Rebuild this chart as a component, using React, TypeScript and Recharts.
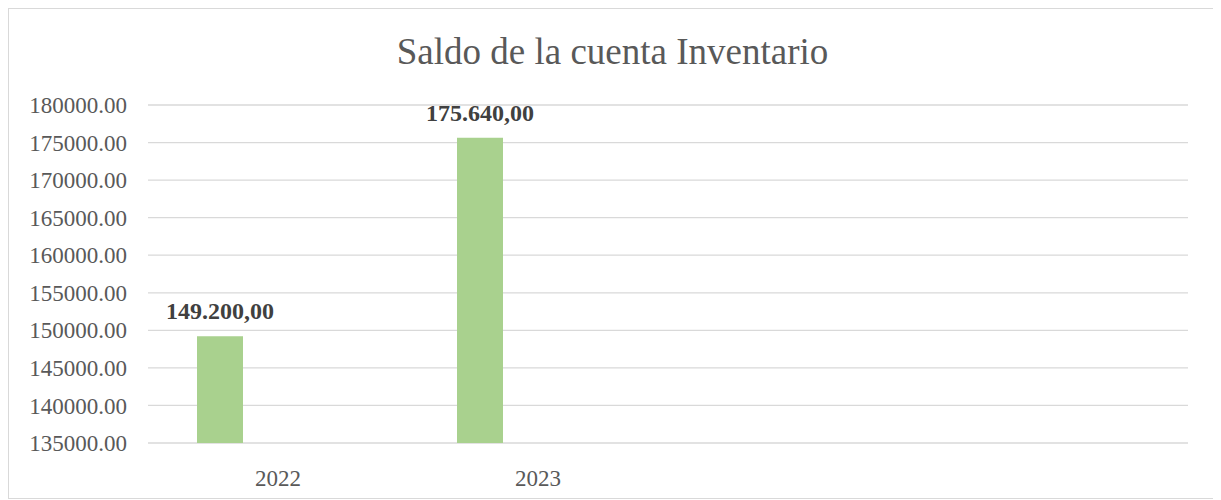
import React from "react";
import { BarChart, Bar, XAxis, YAxis, CartesianGrid, LabelList } from "recharts";

const categories = ["2022", "2023", "", ""];
const inventario = [149200, 175640, null, null];
const serieVacia = [null, null, null, null];
const yTicks = [135000, 140000, 145000, 150000, 155000, 160000, 165000, 170000, 175000, 180000];

const data = categories.map((c, i) => ({ cat: c, inventario: inventario[i], vacia: serieVacia[i] }));

const FONT = '"Liberation Serif", "Times New Roman", serif';

const fmtLabel = (v: any) => {
  if (v === null || v === undefined) return "";
  const [i, d] = Number(v).toFixed(2).split(".");
  return i.replace(/\B(?=(\d{3})+(?!\d))/g, ".") + "," + d;
};

export default function App() {
  return (
    <div
      style={{
        position: "relative",
        width: 1207,
        height: 489,
        border: "1px solid #d9d9d9",
        background: "#fff",
        fontFamily: FONT,
      }}
    >
      <div
        style={{
          position: "absolute",
          left: 0,
          right: 0,
          top: 22,
          textAlign: "center",
          fontSize: 37,
          color: "#595959",
          fontFamily: FONT,
          lineHeight: "42px",
        }}
      >
        Saldo de la cuenta Inventario
      </div>
      <BarChart
        width={1207}
        height={489}
        data={data}
        margin={{ top: 96, right: 28, bottom: 0, left: 0 }}
        barSize={46}
        barGap={70}
      >
        <CartesianGrid vertical={false} stroke="#d9d9d9" strokeWidth={1.3} />
        <XAxis
          dataKey="cat"
          axisLine={false}
          tickLine={false}
          tickSize={6}
          tickMargin={21}
          height={55}
          interval={0}
          tick={{ fontSize: 23, fill: "#595959", fontFamily: FONT }}
        />
        <YAxis
          domain={[135000, 180000]}
          ticks={yTicks}
          allowDataOverflow
          axisLine={false}
          tickLine={false}
          tickSize={6}
          tickMargin={15}
          width={139}
          tickFormatter={(v: number) => v.toFixed(2)}
          tick={{ fontSize: 23, fill: "#595959", fontFamily: FONT }}
        />
        <Bar dataKey="inventario" fill="#a9d18e" isAnimationActive={false}>
          <LabelList
            dataKey="inventario"
            position="top"
            offset={17}
            formatter={fmtLabel}
            style={{ fontSize: 24, fontWeight: "bold", fill: "#404040", fontFamily: FONT }}
          />
        </Bar>
        <Bar dataKey="vacia" fill="#70ad47" isAnimationActive={false} />
      </BarChart>
    </div>
  );
}
